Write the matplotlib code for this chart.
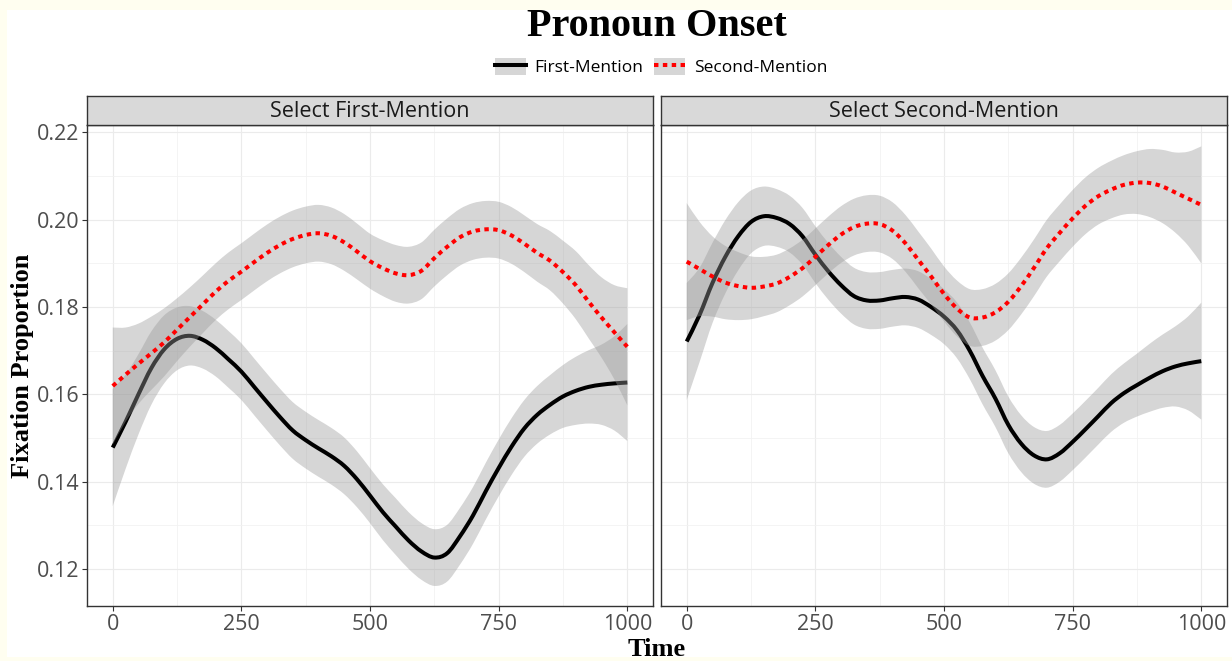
import numpy as np
import matplotlib
matplotlib.use("Agg")
import matplotlib.pyplot as plt
from matplotlib.patches import Rectangle, Patch, PathPatch
from matplotlib.path import Path
from matplotlib.lines import Line2D

# time grid (ms) and smoothed fixation proportions
time = list(range(0, 1001, 25))

left_first = [0.1478, 0.1537, 0.1600, 0.1660, 0.1703, 0.1727, 0.1734, 0.1725, 0.1706, 0.1680,
              0.1652, 0.1617, 0.1582, 0.1548, 0.1517, 0.1495, 0.1476, 0.1458, 0.1436, 0.1405,
              0.1368, 0.1330, 0.1297, 0.1265, 0.1240, 0.1226, 0.1236, 0.1275, 0.1322, 0.1378,
              0.1431, 0.1480, 0.1522, 0.1553, 0.1576, 0.1595, 0.1608, 0.1617, 0.1622, 0.1625,
              0.1627]
left_second = [0.1619, 0.1645, 0.1670, 0.1694, 0.1719, 0.1748, 0.1777, 0.1806, 0.1835, 0.1860,
               0.1881, 0.1903, 0.1924, 0.1942, 0.1956, 0.1965, 0.1969, 0.1963, 0.1948, 0.1927,
               0.1905, 0.1889, 0.1877, 0.1873, 0.1883, 0.1912, 0.1938, 0.1960, 0.1973, 0.1978,
               0.1976, 0.1964, 0.1945, 0.1924, 0.1906, 0.1880, 0.1850, 0.1812, 0.1776, 0.1742,
               0.1709]
right_first = [0.1721, 0.1782, 0.1855, 0.1915, 0.1962, 0.1995, 0.2008, 0.2004, 0.1990, 0.1962,
               0.1920, 0.1882, 0.1850, 0.1825, 0.1815, 0.1815, 0.1820, 0.1823, 0.1817, 0.1800,
               0.1778, 0.1747, 0.1700, 0.1642, 0.1590, 0.1530, 0.1487, 0.1460, 0.1451, 0.1465,
               0.1491, 0.1520, 0.1550, 0.1580, 0.1603, 0.1621, 0.1638, 0.1653, 0.1664, 0.1671,
               0.1676]
right_second = [0.1904, 0.1887, 0.1870, 0.1856, 0.1848, 0.1844, 0.1847, 0.1854, 0.1869, 0.1889,
                0.1915, 0.1942, 0.1966, 0.1983, 0.1991, 0.1990, 0.1975, 0.1946, 0.1908, 0.1870,
                0.1830, 0.1797, 0.1776, 0.1776, 0.1788, 0.1812, 0.1848, 0.1890, 0.1935, 0.1970,
                0.2003, 0.2032, 0.2054, 0.2069, 0.2080, 0.2085, 0.2084, 0.2076, 0.2062, 0.2048,
                0.2034]
# half width of the confidence band
band_half = [0.0134, 0.0108, 0.0092, 0.0084, 0.0078, 0.0072, 0.0068, 0.0066, 0.0065, 0.0065,
             0.0065, 0.0065, 0.0065, 0.0065, 0.0065, 0.0065, 0.0065, 0.0065, 0.0065, 0.0064,
             0.0063, 0.0064, 0.0065, 0.0065, 0.0065, 0.0065, 0.0065, 0.0065, 0.0065, 0.0065,
             0.0065, 0.0065, 0.0065, 0.0066, 0.0068, 0.0072, 0.0078, 0.0084, 0.0092, 0.0108,
             0.0134]

panels = ["Select First-Mention", "Select Second-Mention"]
series_names = ["First-Mention", "Second-Mention"]
x_ticks = [0, 250, 500, 750, 1000]
y_ticks = [0.12, 0.14, 0.16, 0.18, 0.20, 0.22]

sans = ["Open Sans", "DejaVu Sans"]
serif = ["Liberation Serif", "DejaVu Serif"]


def bezier_verts(x, y):
    # smooth curve through the points (Catmull-Rom as cubic bezier segments)
    p = np.column_stack([x, y])
    n = len(p)
    verts = [p[0]]
    for k in range(n - 1):
        a = p[k - 1] if k > 0 else p[k]
        d = p[k + 2] if k + 2 < n else p[k + 1]
        verts += [p[k] + (p[k + 1] - a) / 6, p[k + 1] - (d - p[k]) / 6, p[k + 1]]
    return verts


def curve_path(x, y):
    verts = bezier_verts(x, y)
    codes = [Path.MOVETO] + [Path.CURVE4] * (len(verts) - 1)
    return Path(verts, codes)


def band_path(x, lo, hi):
    up = bezier_verts(x, hi)
    down = bezier_verts(x[::-1], lo[::-1])
    verts = up + down + [up[0]]
    codes = ([Path.MOVETO] + [Path.CURVE4] * (len(up) - 1) + [Path.LINETO]
             + [Path.CURVE4] * (len(down) - 1) + [Path.CLOSEPOLY])
    return Path(verts, codes)


fig = plt.figure(figsize=(12.32, 6.61), dpi=100, facecolor="#fffef0")
fig.patches.append(Rectangle((7 / 1232, 4 / 661), 1, 647 / 661, transform=fig.transFigure,
                             facecolor="white", edgecolor="none", zorder=-10))

W, H = 1232, 661
panel_px = [(87, 653), (661, 1227)]
top_px, bot_px, strip_top = 125, 606, 96

data = [(left_first, left_second), (right_first, right_second)]
t = np.array(time, dtype=float)
hw = np.array(band_half)

for i, (x0, x1) in enumerate(panel_px):
    ax = fig.add_axes([x0 / W, 1 - bot_px / H, (x1 - x0) / W, (bot_px - top_px) / H])
    first, second = data[i]
    for j, (vals, color, ls) in enumerate([(first, "black", "-"), (second, "red", (0, (1.1, 1.1)))]):
        v = np.array(vals)
        ax.add_patch(PathPatch(band_path(t, v - hw, v + hw), facecolor="#999999", alpha=0.4,
                               lw=0, edgecolor="none", zorder=2 + 2 * j))
        ax.add_patch(PathPatch(curve_path(t, v), fill=False, edgecolor=color, lw=2.9,
                               linestyle=ls, capstyle="butt", joinstyle="round", zorder=3 + 2 * j))
    ax.set_xlim(-50, 1050)
    ax.set_ylim(0.1115, 0.2217)
    ax.set_xticks(x_ticks)
    ax.set_xticks([125, 375, 625, 875], minor=True)
    ax.set_yticks(y_ticks)
    ax.set_yticks([0.13, 0.15, 0.17, 0.19, 0.21], minor=True)
    ax.grid(which="major", color="#ebebeb", lw=0.85, zorder=0)
    ax.grid(which="minor", color="#f2f2f2", lw=0.6, zorder=0)
    ax.set_axisbelow(True)
    for s in ax.spines.values():
        s.set_color("#333333")
        s.set_linewidth(1.0)
    ax.tick_params(which="major", length=3.5, width=0.8, color="#333333",
                   labelcolor="#4d4d4d", labelsize=15.5, pad=2)
    ax.tick_params(which="minor", length=0)
    ax.set_xticklabels([str(x) for x in x_ticks], fontfamily=sans)
    if i == 0:
        ax.set_yticklabels(["%.2f" % y for y in y_ticks], fontfamily=sans)
    else:
        ax.tick_params(axis="y", which="both", left=False, labelleft=False)

    sax = fig.add_axes([x0 / W, 1 - top_px / H, (x1 - x0) / W, (top_px - strip_top) / H])
    sax.set_facecolor("#d9d9d9")
    sax.set_xticks([])
    sax.set_yticks([])
    for s in sax.spines.values():
        s.set_color("#333333")
        s.set_linewidth(1.0)
    sax.text(0.5, 0.47, panels[i], ha="center", va="center", fontsize=15.5,
             color="#1a1a1a", family=sans, transform=sax.transAxes)

fig.text(657 / W, 1 - 27 / H, "Pronoun Onset", ha="center", va="center",
         fontsize=29, fontweight="bold", family=serif)
fig.text(657 / W, 1 - 649 / H, "Time", ha="center", va="center",
         fontsize=19, fontweight="bold", family=serif)
fig.text(23 / W, 1 - 366 / H, "Fixation Proportion", ha="center", va="center",
         rotation=90, fontsize=19, fontweight="bold", family=serif)

h1 = (Patch(facecolor="#999999", alpha=0.4, edgecolor="none"),
      Line2D([], [], color="black", lw=2.9))
h2 = (Patch(facecolor="#999999", alpha=0.4, edgecolor="none"),
      Line2D([], [], color="red", lw=2.9, ls=(0, (1.1, 1.1)), dash_capstyle="butt"))
leg = fig.legend([h1, h2], series_names, loc="center", bbox_to_anchor=(661 / W, 1 - 67 / H),
                 ncol=2, frameon=False, prop={"family": sans, "size": 12.5},
                 handlelength=1.8, handleheight=1.1, handletextpad=0.5, columnspacing=0.6,
                 borderaxespad=0)

fig.savefig("out.png", dpi=100, facecolor=fig.get_facecolor())
